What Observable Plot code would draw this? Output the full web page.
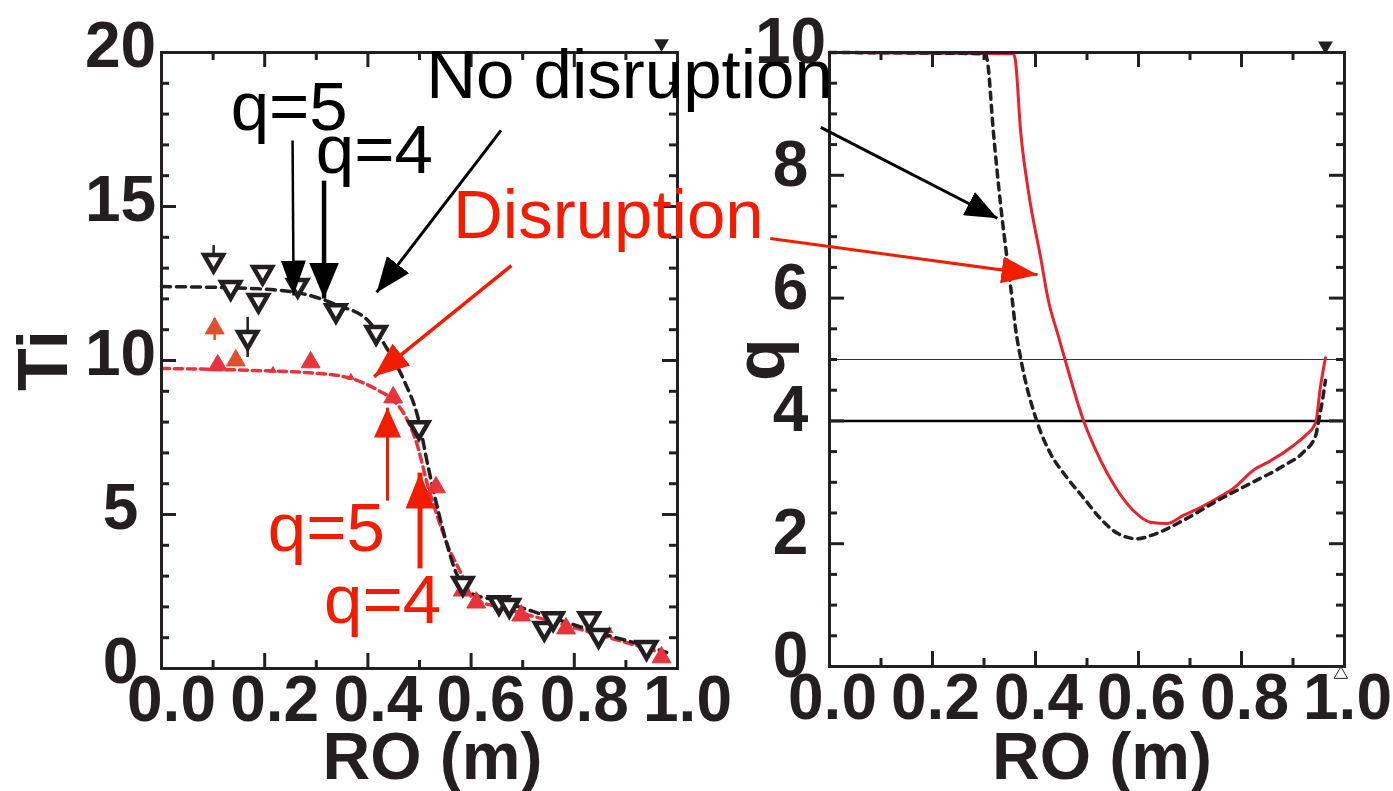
<!DOCTYPE html>
<html><head><meta charset="utf-8">
<script src="https://cdn.jsdelivr.net/npm/d3@7"></script>
<script src="https://cdn.jsdelivr.net/npm/@observablehq/plot@0.6"></script>
<style>
html,body{margin:0;padding:0;background:#fff;}
#wrap{position:relative;width:1393px;height:791px;overflow:hidden;}
#left,#right{position:absolute;top:0;}
#left{left:0;z-index:2;}
#right{left:700px;z-index:1;}
</style></head><body><div id="wrap"><div id="right"></div><div id="left"></div></div>
<script>
// ---------- data: left panel (Ti) ----------
const tiNoDisX = [0.101, 0.134, 0.196, 0.188, 0.167, 0.264, 0.338, 0.416, 0.499, 0.584, 0.654, 0.674, 0.742, 0.759, 0.829, 0.847, 0.940];
const tiNoDisY = [13.25, 12.37, 12.86, 11.95, 10.75, 12.44, 11.62, 10.91, 7.82, 2.76, 2.14, 2.05, 1.30, 1.62, 1.62, 1.07, 0.68];
const tiDisX = [0.109, 0.289, 0.449, 0.532, 0.584, 0.610, 0.697, 0.784, 0.969];
const tiDisY = [9.84, 9.94, 8.80, 5.88, 2.53, 2.14, 1.72, 1.30, 0.36];
const tiDisOrangeX = [0.103, 0.144];
const tiDisOrangeY = [11.04, 10.0];
const tiDisSmallX = [0.216, 0.367, 0.868];
const tiDisSmallY = [9.68, 9.45, 1.23];
const errBarX = [0.101, 0.167];
const errBarLo = [12.92, 10.1];
const errBarHi = [13.73, 11.4];
const errBarRedX = [0.103];
const errBarRedLo = [10.65];
const errBarRedHi = [11.36];
const fitNoDisX = [0, 0.173, 0.270, 0.342, 0.400, 0.431, 0.470, 0.497, 0.517, 0.536, 0.555, 0.567, 0.584, 0.600, 0.652, 0.755, 0.852, 0.955, 0.979];
const fitNoDisY = [12.40, 12.34, 12.18, 11.79, 11.30, 10.55, 9.35, 8.15, 6.53, 5.13, 3.93, 3.28, 2.69, 2.44, 2.21, 1.66, 1.14, 0.65, 0.52];
const fitDisX = [0, 0.173, 0.303, 0.367, 0.420, 0.450, 0.474, 0.493, 0.517, 0.542, 0.557, 0.581, 0.604, 0.658, 0.750, 0.866, 0.955];
const fitDisY = [9.74, 9.68, 9.58, 9.42, 9.03, 8.70, 8.15, 7.40, 5.88, 4.58, 3.90, 3.08, 2.27, 1.98, 1.56, 1.01, 0.58];
const tiTopMarkX = [0.969];
const tiTopMarkY = [20.29];

// ---------- data: right panel (q) ----------
const qNoDisX = [0, 0.303, 0.307, 0.318, 0.332, 0.346, 0.355, 0.361, 0.371, 0.404, 0.429, 0.458, 0.493, 0.526, 0.559, 0.598, 0.623, 0.687, 0.753, 0.817, 0.882, 0.920, 0.944, 0.950, 0.957, 0.963];
const qNoDisY = [10.0, 9.98, 9.84, 8.73, 7.54, 6.56, 5.96, 5.52, 5.03, 3.96, 3.47, 3.11, 2.75, 2.41, 2.17, 2.08, 2.13, 2.38, 2.70, 2.98, 3.27, 3.49, 3.76, 4.01, 4.33, 4.66];
const qDisX = [0, 0.357, 0.361, 0.371, 0.386, 0.410, 0.425, 0.443, 0.458, 0.493, 0.520, 0.559, 0.590, 0.623, 0.656, 0.687, 0.720, 0.753, 0.784, 0.827, 0.850, 0.901, 0.924, 0.944, 0.953, 0.963];
const qDisY = [10.0, 9.98, 9.87, 8.73, 7.75, 6.66, 5.96, 5.42, 4.98, 4.01, 3.47, 2.87, 2.54, 2.35, 2.33, 2.46, 2.59, 2.74, 2.90, 3.22, 3.32, 3.60, 3.76, 3.97, 4.54, 5.03];
const qLevelThin = [5];
const qLevelThick = [4];
const qTopMarkX = [0.963];
const qTopMarkY = [10.11];
const qBottomMarkX = [0.993];
const qBottomMarkY = [-0.13];

// ---------- ticks and labels ----------
const xMajorTicks = [0, 0.2, 0.4, 0.6, 0.8, 1.0];
const xMinorTicks = [0.1, 0.3, 0.5, 0.7, 0.9];
const tiMajorTicks = [0, 5, 10, 15, 20];
const tiMinorTicks = [1, 2, 3, 4, 6, 7, 8, 9, 11, 12, 13, 14, 16, 17, 18, 19];
const qMajorTicks = [0, 2, 4, 6, 8, 10];
const qMinorTicks = [0.5, 1, 1.5, 2.5, 3, 3.5, 4.5, 5, 5.5, 6.5, 7, 7.5, 8.5, 9, 9.5];
const xLabel = "RO (m)";
const tiLabel = "Ti";
const qLabel = "q";

// ---------- annotations ----------
const blackTexts = ["No disruption", "q=5", "q=4"];
const blackTextX = [0.513, 0.134, 0.299];
const blackTextY = [18.51, 17.47, 16.10];
const redTexts = ["Disruption", "q=5", "q=4"];
const redTextX = [0.565, 0.206, 0.315];
const redTextY = [13.99, 3.83, 1.49];
// arrows: [x1, y1, x2, y2]
const arrowQ5Black = [[0.254, 17.14, 0.256, 12.11]];
const arrowQ4Black = [[0.315, 15.84, 0.315, 12.01]];
const arrowNoDisLeft = [[0.658, 17.47, 0.417, 12.21]];
const arrowDisLeft = [[0.678, 13.08, 0.412, 9.48]];
const arrowQ5Red = [[0.438, 5.45, 0.438, 8.47]];
const arrowQ4Red = [[0.501, 3.25, 0.501, 6.36]];
const arrowNoDisRight = [[-0.017, 8.78, 0.326, 7.30]];
const arrowDisRight = [[-0.115, 6.97, 0.404, 6.38]];

// ---------- helpers ----------
const zip = (xs, ys) => xs.map((x, i) => ({x, y: ys[i]}));
const toArrow = a => a.map(([x1, y1, x2, y2]) => ({x1, y1, x2, y2}));
const INK = "#231f20";
const RED = "#f21c00";
const RED_MARK = "#e8323c";
const FONT = "'Liberation Sans', Arial, Helvetica, sans-serif";

function filledHead(len, wid) {
  return (color) => {
    const m = d3.create("svg:marker")
      .attr("viewBox", `${-len} ${-wid / 2} ${len} ${wid}`)
      .attr("markerWidth", len)
      .attr("markerHeight", wid)
      .attr("markerUnits", "userSpaceOnUse")
      .attr("refX", 0).attr("refY", 0)
      .attr("orient", "auto")
      .attr("fill", color)
      .attr("stroke", "none");
    m.append("path").attr("d", `M${-len},${-wid / 2}L0,0L${-len},${wid / 2}Z`);
    return m.node();
  };
}
function arrowMark(data, color, width, len, wid) {
  return Plot.link(toArrow(data), {x1: "x1", y1: "y1", x2: "x2", y2: "y2", stroke: color, strokeWidth: width, markerEnd: filledHead(len, wid)});
}
function frameTicks(xMaj, xMin, yMaj, yMin, fw, fh) {
  const f = d => d;
  return [
    Plot.tickX(xMaj, {x: f, insetTop: fh - 15, stroke: INK, strokeWidth: 3}),
    Plot.tickX(xMin, {x: f, insetTop: fh - 8, stroke: INK, strokeWidth: 3}),
    Plot.tickX(xMaj, {x: f, insetBottom: fh - 15, stroke: INK, strokeWidth: 3}),
    Plot.tickX(xMin, {x: f, insetBottom: fh - 8, stroke: INK, strokeWidth: 3}),
    Plot.tickY(yMaj, {y: f, insetRight: fw - 15, stroke: INK, strokeWidth: 3}),
    Plot.tickY(yMin, {y: f, insetRight: fw - 8, stroke: INK, strokeWidth: 3}),
    Plot.tickY(yMaj, {y: f, insetLeft: fw - 15, stroke: INK, strokeWidth: 3}),
    Plot.tickY(yMin, {y: f, insetLeft: fw - 8, stroke: INK, strokeWidth: 3})
  ];
}
const svgStyle = {fontFamily: FONT, background: "transparent", overflow: "visible", color: INK};

// ---------- left panel ----------
const L = {w: 700, h: 791, ml: 161, mr: 23, mt: 52, mb: 123};
const left = Plot.plot({
  width: L.w, height: L.h,
  marginLeft: L.ml, marginRight: L.mr, marginTop: L.mt, marginBottom: L.mb,
  style: svgStyle,
  x: {domain: [0, 1]},
  y: {domain: [0, 20]},
  marks: [
    Plot.line(zip(fitDisX, fitDisY), {x: "x", y: "y", curve: "monotone-x", stroke: RED_MARK, strokeWidth: 3.5, strokeDasharray: "8,5"}),
    Plot.line(zip(fitNoDisX, fitNoDisY), {x: "x", y: "y", curve: "monotone-x", stroke: INK, strokeWidth: 3.5, strokeDasharray: "9,6"}),
    Plot.ruleX(errBarRedX.map((x, i) => ({x, y1: errBarRedLo[i], y2: errBarRedHi[i]})), {x: "x", y1: "y1", y2: "y2", stroke: "#d9532e", strokeWidth: 2.5}),
    Plot.dot(zip(tiDisX, tiDisY), {x: "x", y: "y", symbol: "triangle", r: 7, fill: RED_MARK, stroke: RED_MARK, strokeWidth: 1}),
    Plot.dot(zip(tiDisOrangeX, tiDisOrangeY), {x: "x", y: "y", symbol: "triangle", r: 7, fill: "#dc512f", stroke: "#dc512f", strokeWidth: 1}),
    Plot.dot(zip(tiDisSmallX, tiDisSmallY), {x: "x", y: "y", symbol: "triangle", r: 3, fill: RED_MARK}),
    Plot.ruleX(errBarX.map((x, i) => ({x, y1: errBarLo[i], y2: errBarHi[i]})), {x: "x", y1: "y1", y2: "y2", stroke: INK, strokeWidth: 2.5}),
    Plot.dot(zip(tiNoDisX, tiNoDisY), {x: "x", y: "y", symbol: "triangle", rotate: 180, r: 7, fill: "white", stroke: INK, strokeWidth: 4.5}),
    Plot.dot(zip(tiTopMarkX, tiTopMarkY), {x: "x", y: "y", symbol: "triangle", rotate: 180, r: 5.5, fill: INK}),
    Plot.frame({stroke: INK, strokeWidth: 3}),
    ...frameTicks(xMajorTicks, xMinorTicks, tiMajorTicks, tiMinorTicks, L.w - L.ml - L.mr, L.h - L.mt - L.mb),
    Plot.axisX({ticks: xMajorTicks, tickSize: 0, tickPadding: 7, tickFormat: d3.format(".1f"), fontSize: 64, fontWeight: "bold", dx: 10, label: null}),
    Plot.axisY({ticks: tiMajorTicks, tickSize: 0, tickPadding: 0, textAnchor: "middle", dx: -41, dy: -6, fontSize: 64, fontWeight: "bold", label: null}),
    Plot.text([xLabel], {text: d => d, frameAnchor: "bottom", lineAnchor: "bottom", dy: 110, dx: 13, fontSize: 66, fontWeight: "bold"}),
    Plot.text([tiLabel], {text: d => d, frameAnchor: "left", rotate: -90, lineAnchor: "middle", textAnchor: "middle", dx: -117, fontSize: 70, fontWeight: "bold"}),
    arrowMark(arrowQ5Black, "#000", 2.5, 35, 25),
    arrowMark(arrowQ4Black, "#000", 4.5, 36, 30),
    arrowMark(arrowNoDisLeft, "#000", 3, 35, 28),
    arrowMark(arrowDisLeft, RED, 3.5, 35, 28),
    arrowMark(arrowQ5Red, RED, 3, 30, 27),
    arrowMark(arrowQ4Red, RED, 5, 36, 29),
    Plot.text(blackTexts.map((t, i) => ({t, x: blackTextX[i], y: blackTextY[i]})), {x: "x", y: "y", text: "t", textAnchor: "start", lineAnchor: "bottom", fontSize: 69, fill: "#000"}),
    Plot.text(redTexts.map((t, i) => ({t, x: redTextX[i], y: redTextY[i]})), {x: "x", y: "y", text: "t", textAnchor: "start", lineAnchor: "bottom", fontSize: 69, fill: RED})
  ]
});
document.getElementById("left").append(left);

// ---------- right panel ----------
const R = {w: 693, h: 791, ml: 129, mr: 49, mt: 52, mb: 125};
const right = Plot.plot({
  width: R.w, height: R.h,
  marginLeft: R.ml, marginRight: R.mr, marginTop: R.mt, marginBottom: R.mb,
  style: svgStyle,
  x: {domain: [0, 1]},
  y: {domain: [0, 10]},
  marks: [
    Plot.ruleY(qLevelThin, {stroke: "#333", strokeWidth: 1.2}),
    Plot.ruleY(qLevelThick, {stroke: "#000", strokeWidth: 2.5}),
    Plot.line(zip(qDisX, qDisY), {x: "x", y: "y", curve: "monotone-x", stroke: "#e8232d", strokeWidth: 3}),
    Plot.line(zip(qNoDisX, qNoDisY), {x: "x", y: "y", curve: "monotone-x", stroke: INK, strokeWidth: 3.5, strokeDasharray: "7,6"}),
    Plot.frame({stroke: INK, strokeWidth: 3}),
    ...frameTicks(xMajorTicks, xMinorTicks, qMajorTicks, qMinorTicks, R.w - R.ml - R.mr, R.h - R.mt - R.mb),
    Plot.dot(zip(qTopMarkX, qTopMarkY), {x: "x", y: "y", symbol: "triangle", rotate: 180, r: 5.5, fill: INK}),
    Plot.dot(zip(qBottomMarkX, qBottomMarkY), {x: "x", y: "y", symbol: "triangle", r: 5, fill: "white", stroke: INK, strokeWidth: 1}),
    Plot.axisX({ticks: xMajorTicks, tickSize: 0, tickPadding: 7, tickFormat: d3.format(".1f"), fontSize: 64, fontWeight: "bold", dx: 3, label: null}),
    Plot.axisY({ticks: qMajorTicks, tickSize: 0, tickPadding: 0, textAnchor: "middle", dx: -39, dy: -10, fontSize: 64, fontWeight: "bold", label: null}),
    Plot.text([xLabel], {text: d => d, frameAnchor: "bottom", lineAnchor: "bottom", dy: 112, dx: 15, fontSize: 66, fontWeight: "bold"}),
    Plot.text([qLabel], {text: d => d, frameAnchor: "left", rotate: -90, lineAnchor: "middle", textAnchor: "middle", dx: -68, fontSize: 70, fontWeight: "bold"}),
    arrowMark(arrowNoDisRight, "#000", 3, 32, 26),
    arrowMark(arrowDisRight, RED, 3, 36, 27)
  ]
});
document.getElementById("right").append(right);
</script>
</body></html>
